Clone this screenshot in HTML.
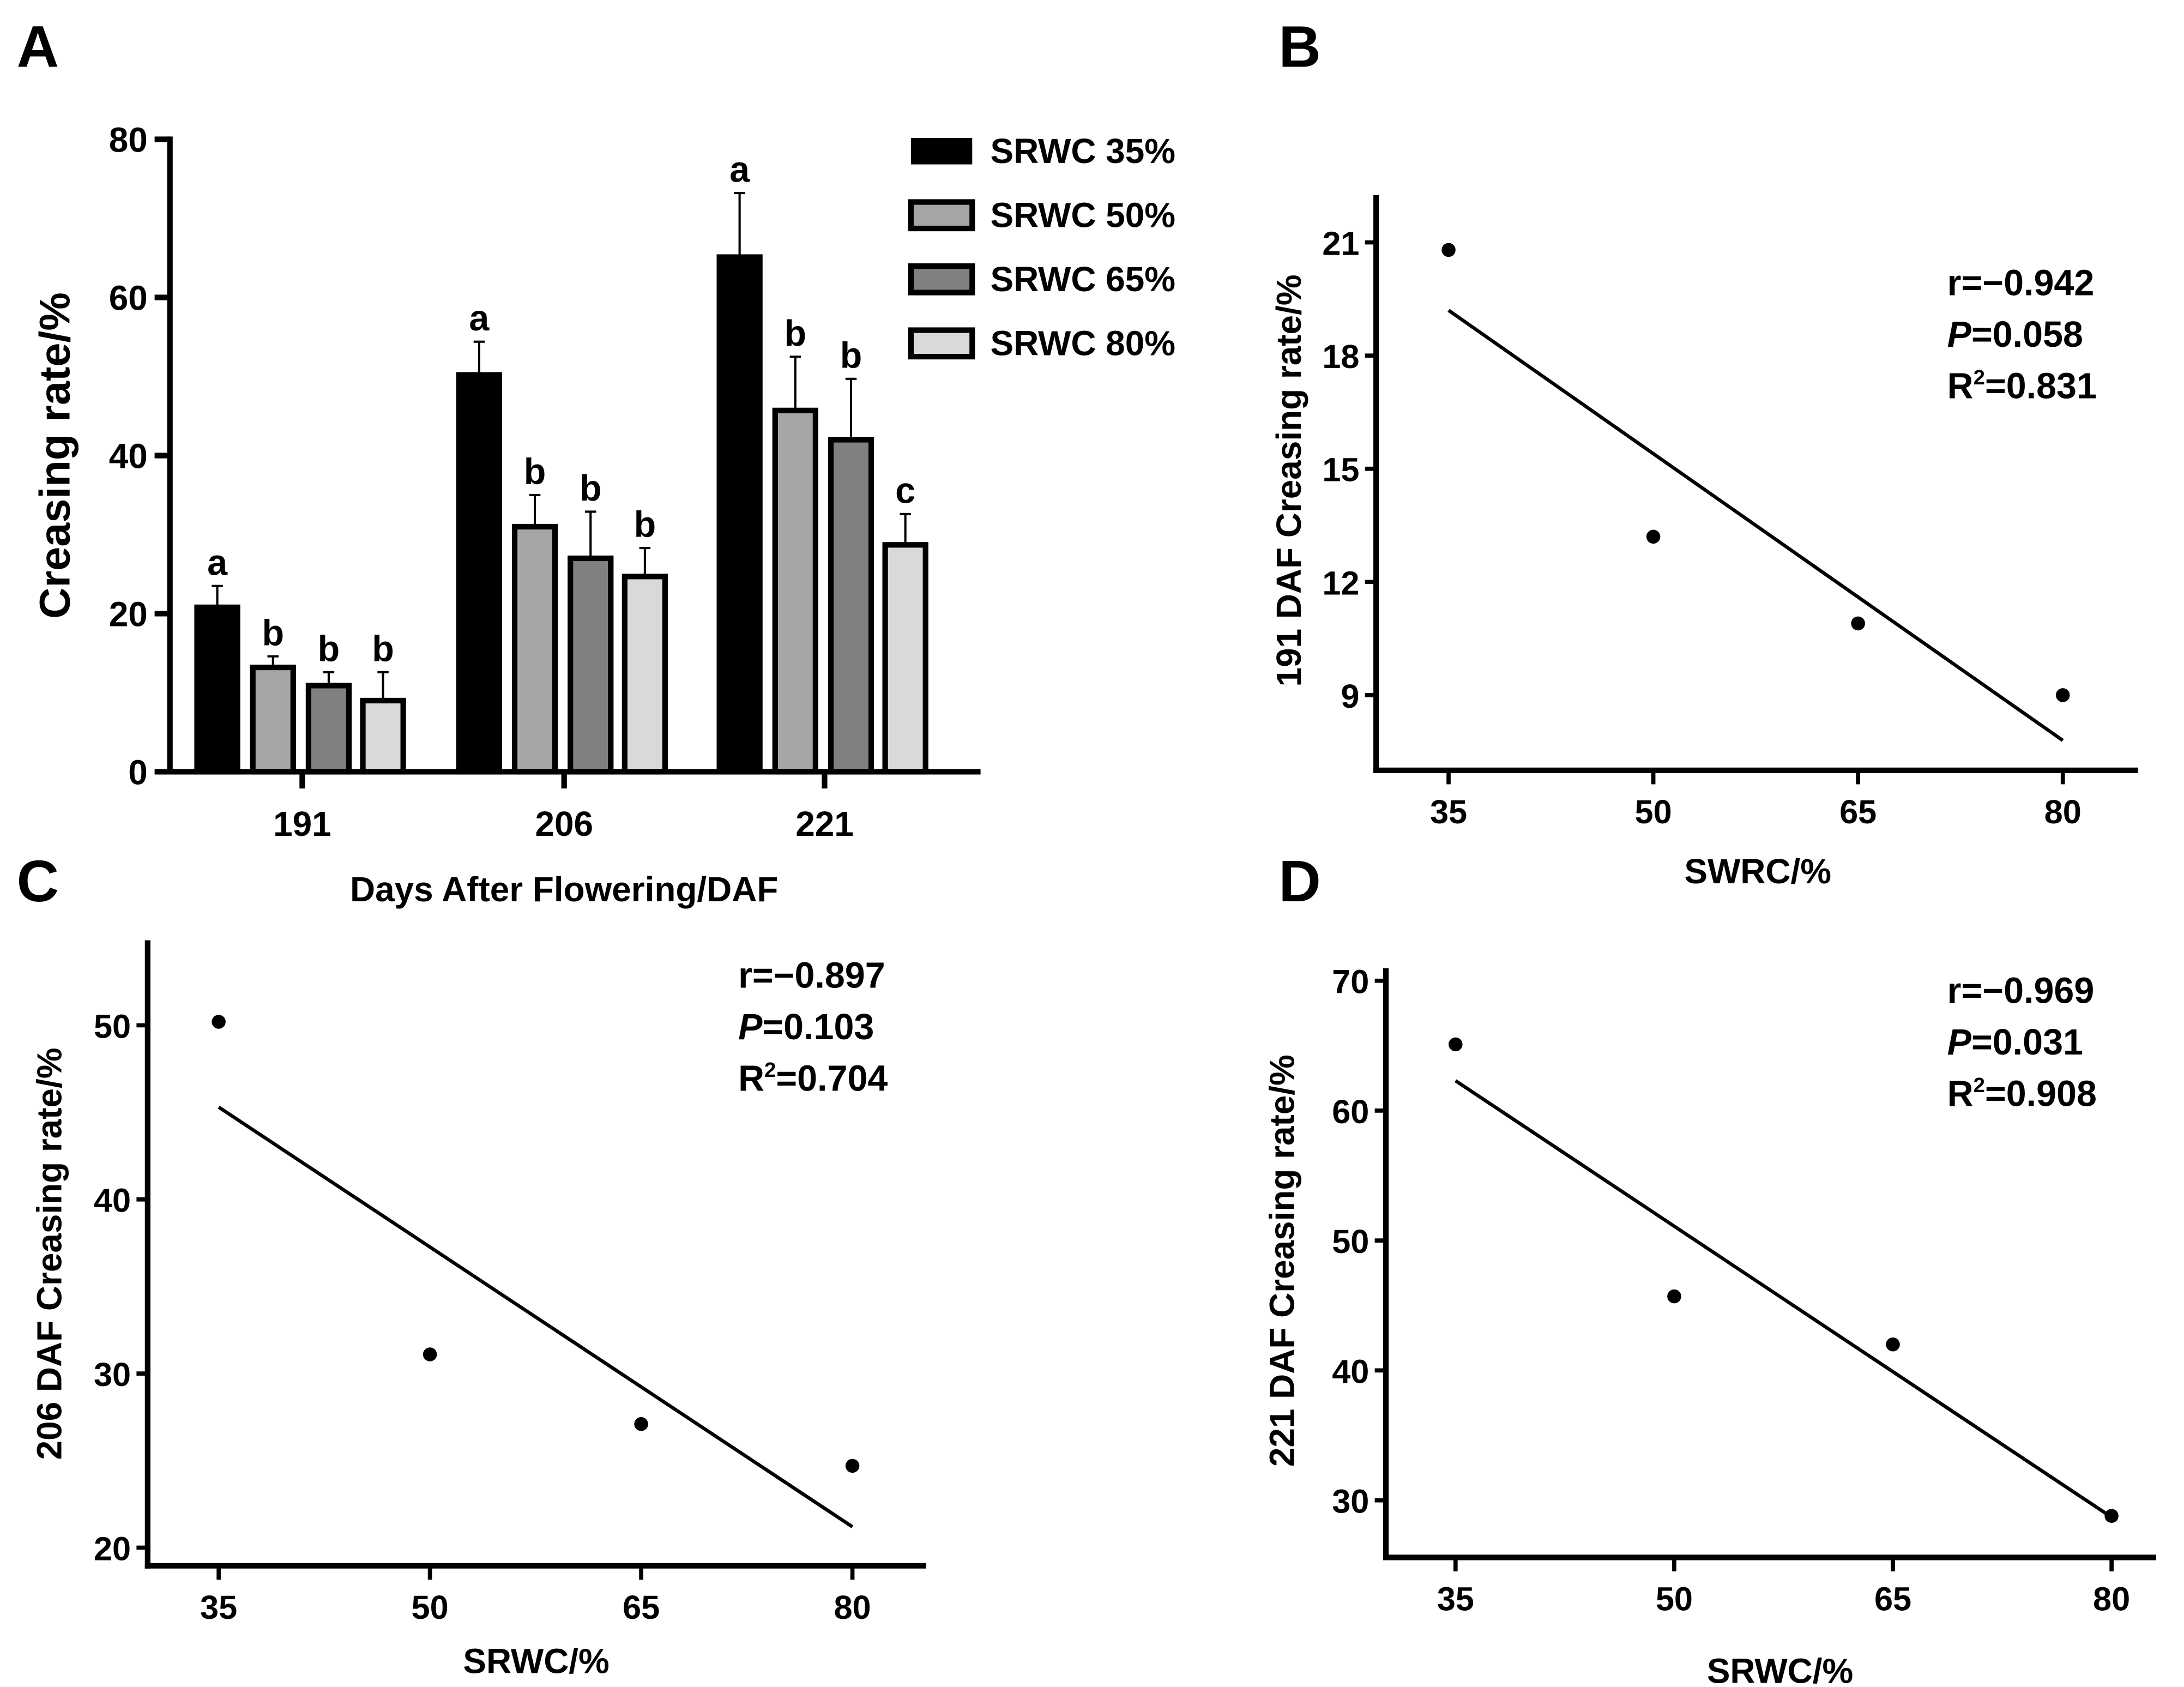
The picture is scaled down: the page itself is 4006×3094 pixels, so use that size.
<!DOCTYPE html>
<html><head><meta charset="utf-8">
<style>
html,body{margin:0;padding:0;background:#fff;}
svg{display:block;font-family:"Liberation Sans",Arial,sans-serif;font-weight:bold;}
</style></head>
<body>
<svg id="fig" width="4006" height="3094" viewBox="0 0 1568 1211" xmlns="http://www.w3.org/2000/svg"></svg>
<script>
// Panel A data
const groups = ["191","206","221"];
const seriesNames = ["SRWC 35%","SRWC 50%","SRWC 65%","SRWC 80%"];
const vals35 = [20.8, 50.2, 65.1];
const vals50 = [13.2, 31.0, 45.7];
const vals65 = [10.9, 27.0, 42.0];
const vals80 = [9.0, 24.7, 28.7];
const err35 = [2.7, 4.2, 8.1];
const err50 = [1.4, 4.0, 6.8];
const err65 = [1.7, 5.9, 7.7];
const err80 = [3.6, 3.6, 3.9];
const let35 = ["a","a","a"];
const let50 = ["b","b","b"];
const let65 = ["b","b","b"];
const let80 = ["b","b","c"];
const yTicksA = [0,20,40,60,80];
// Scatter data
const xVals = [35,50,65,80];
const xTickLabels = [35,50,65,80];
const yB = [20.8, 13.2, 10.9, 9.0];
const fitB = [19.2, 7.8];
const yTicksB = [9,12,15,18,21];
const statsB = ["r=\u22120.942","0.058","0.831"];
const yC = [50.2, 31.1, 27.1, 24.7];
const fitC = [45.3, 21.2];
const yTicksC = [20,30,40,50];
const statsC = ["r=\u22120.897","0.103","0.704"];
const yD = [65.1, 45.7, 42.0, 28.8];
const fitD = [62.3, 28.7];
const yTicksD = [30,40,50,60,70];
const statsD = ["r=\u22120.969","0.031","0.908"];

const NS="http://www.w3.org/2000/svg";
const svg=document.getElementById('fig');
function mk(tag,attrs,parent,text){const e=document.createElementNS(NS,tag);for(const k in attrs)e.setAttribute(k,attrs[k]);if(text!==undefined)e.textContent=text;(parent||svg).appendChild(e);return e;}
function lin(d0,d1,r0,r1){return v=>r0+(v-d0)*(r1-r0)/(d1-d0);}

// panel labels
[["A",12,48],["B",918,48],["C",12,647],["D",918,647]].forEach(p=>{
  const t=mk('text',{x:p[1],y:p[2],'font-size':42},svg,p[0]);
  
  
});

// ===== Panel A =====
const gA=mk('g',{});


const yA=lin(0,80,554,100);
const groupX=[217,405,592];
const fills=["#000000","#a6a6a8","#808080","#d9d9d9"];
const allVals=[vals35,vals50,vals65,vals80];
const allErr=[err35,err50,err65,err80];
const allLet=[let35,let50,let65,let80];
const offs=[-61,-21,19,58];
for(let s=0;s<4;s++){
  for(let g=0;g<3;g++){
    const v=allVals[s][g], cx=groupX[g]+offs[s];
    const top=yA(v), et=yA(v+allErr[s][g]);
    const el=mk('line',{x1:cx,x2:cx,y1:top,y2:et,stroke:'#000','stroke-width':1.6},gA);
    
    
    const cap=mk('line',{x1:cx-4,x2:cx+4,y1:et,y2:et,stroke:'#000','stroke-width':1.6},gA);
    
    
    const r=mk('rect',{x:cx-14.5,y:top,width:29,height:554-top,fill:fills[s],stroke:'#000','stroke-width':4},gA);
    
    
    const lt=mk('text',{x:cx,y:et-8,'font-size':26,'text-anchor':'middle'},gA,allLet[s][g]);
    
    
  }
}
mk('line',{x1:122,x2:122,y1:98,y2:556,stroke:'#000','stroke-width':4},gA);
mk('line',{x1:120,x2:704,y1:554,y2:554,stroke:'#000','stroke-width':4},gA);
yTicksA.forEach(t=>{
  const y=yA(t);
  mk('line',{x1:111,x2:122,y1:y,y2:y,stroke:'#000','stroke-width':4},gA);
  const tx=mk('text',{x:106,y:y+9,'font-size':25,'text-anchor':'end'},gA,t);
  
  
});
groups.forEach((gname,i)=>{
  mk('line',{x1:groupX[i],x2:groupX[i],y1:554,y2:566,stroke:'#000','stroke-width':4},gA);
  const tx=mk('text',{x:groupX[i],y:600,'font-size':25,'text-anchor':'middle'},gA,gname);
  
  
});
let t=mk('text',{x:405,y:647,'font-size':25,'text-anchor':'middle'},gA,'Days After Flowering/DAF');

t=mk('text',{x:0,y:0,'font-size':31,'text-anchor':'middle',transform:'translate(50,327) rotate(-90)'},gA,'Creasing rate/%');

seriesNames.forEach((n,i)=>{
  const y=108+46*i;
  const r=mk('rect',{x:654,y:y-9,width:44,height:19,fill:fills[i],stroke:'#000','stroke-width':i?4:0},gA);
  
  
  const lt=mk('text',{x:711,y:y+9,'font-size':25},gA,n);
  
  
});

// ===== Scatter panels =====
function scatter(cfg){
  const g=mk('g',{});
  
  
  const xs=lin(35,80,cfg.x35,cfg.x80);
  const ys=lin(cfg.t0,cfg.t1,cfg.y0,cfg.y1);
  mk('line',{x1:cfg.ax,x2:cfg.ax,y1:cfg.top,y2:cfg.bot+2,stroke:'#000','stroke-width':4},g);
  mk('line',{x1:cfg.ax-2,x2:cfg.right,y1:cfg.bot,y2:cfg.bot,stroke:'#000','stroke-width':4},g);
  cfg.yt.forEach(v=>{
    const y=ys(v);
    mk('line',{x1:cfg.ax-8,x2:cfg.ax,y1:y,y2:y,stroke:'#000','stroke-width':3},g);
    const tx=mk('text',{x:cfg.ax-12,y:y+9,'font-size':24,'text-anchor':'end'},g,v);
    
    
  });
  xTickLabels.forEach(v=>{
    const x=xs(v);
    mk('line',{x1:x,x2:x,y1:cfg.bot,y2:cfg.bot+10,stroke:'#000','stroke-width':3},g);
    const tx=mk('text',{x:x,y:cfg.bot+38,'font-size':24,'text-anchor':'middle'},g,v);
    
    
  });
  const ln=mk('line',{x1:xs(35),y1:ys(cfg.fit[0]),x2:xs(80),y2:ys(cfg.fit[1]),stroke:'#000','stroke-width':2.5},g);
  
  
  xVals.forEach((x,i)=>{
    const c=mk('circle',{cx:xs(x),cy:ys(cfg.ys[i]),r:5,fill:'#000'},g);
    
    
  });
  const st=cfg.stats;
  let s1=mk('text',{x:cfg.sx,y:cfg.sy,'font-size':26},g,st[0]);
  
  let s2=mk('text',{x:cfg.sx,y:cfg.sy+37,'font-size':26},g);
  
  mk('tspan',{'font-style':'italic'},s2,'P');mk('tspan',{},s2,'='+st[1]);
  let s3=mk('text',{x:cfg.sx,y:cfg.sy+74,'font-size':26},g);
  
  mk('tspan',{},s3,'R');mk('tspan',{'font-size':15,dy:-10},s3,'2');mk('tspan',{dy:10},s3,'='+st[2]);
  let xt=mk('text',{x:cfg.xlx,y:cfg.xly,'font-size':25,'text-anchor':'middle'},g,cfg.xl);
  
  let yt=mk('text',{x:0,y:0,'font-size':25,'text-anchor':'middle',transform:'translate('+cfg.ylx+','+cfg.yly+') rotate(-90)'},g,cfg.yl);
  
}
scatter({name:'scatter-b',ax:988,top:140,bot:553,right:1535,x35:1040,x80:1481,t0:9,t1:21,y0:499,y1:174,yt:yTicksB,ys:yB,fit:fitB,stats:statsB,sx:1398,sy:212,xl:'SWRC/%',xlx:1262,xly:634,yl:'191 DAF Creasing rate/%',ylx:934,yly:345});
scatter({name:'scatter-c',ax:106,top:675,bot:1124,right:665,x35:157,x80:612,t0:20,t1:50,y0:1111,y1:736,yt:yTicksC,ys:yC,fit:fitC,stats:statsC,sx:530,sy:709,xl:'SRWC/%',xlx:385,xly:1201,yl:'206 DAF Creasing rate/%',ylx:44,yly:900});
scatter({name:'scatter-d',ax:995,top:695,bot:1118,right:1548,x35:1045,x80:1516,t0:30,t1:70,y0:1077,y1:704,yt:yTicksD,ys:yD,fit:fitD,stats:statsD,sx:1398,sy:720,xl:'SRWC/%',xlx:1278,xly:1208,yl:'221 DAF Creasing rate/%',ylx:929,yly:905});
</script>
</body></html>
